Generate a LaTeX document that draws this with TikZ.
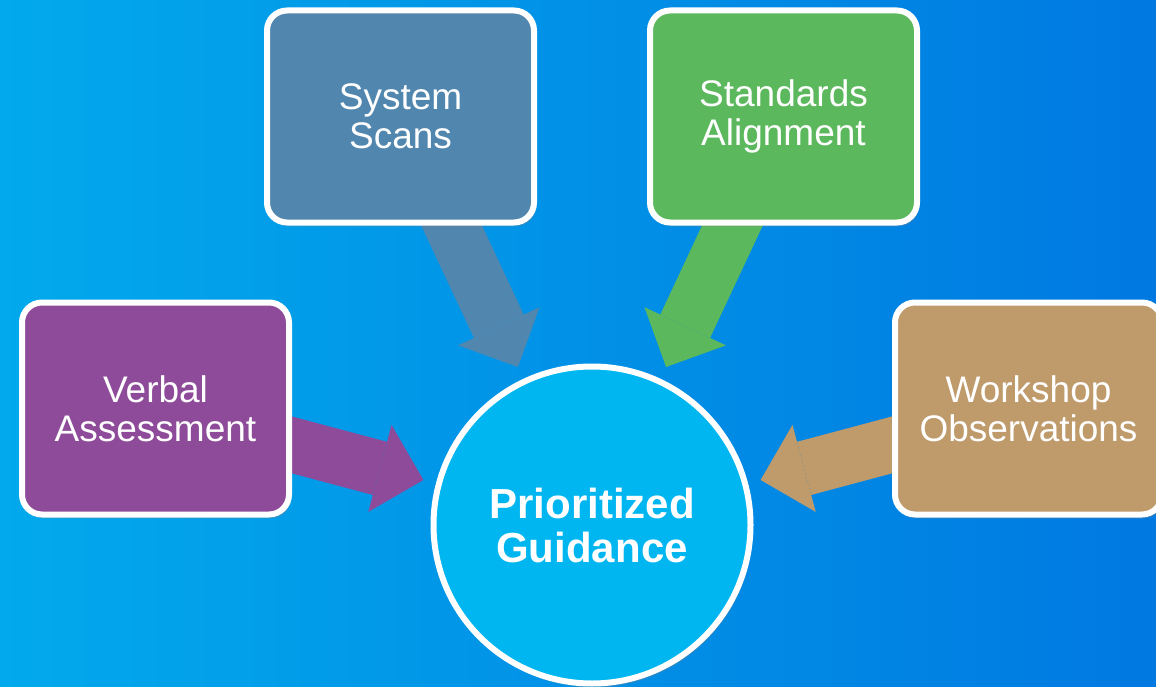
\documentclass[tikz,border=0pt]{standalone}
\usepackage{fontspec}
\setmainfont{Liberation Sans}
\usetikzlibrary{arrows.meta,shadows}

\definecolor{bgleft}{HTML}{02A9EC}
\definecolor{bgright}{HTML}{0079E1}
\definecolor{scanblue}{HTML}{5186AE}
\definecolor{stdgreen}{HTML}{5CB85C}
\definecolor{verbpurple}{HTML}{8E4B99}
\definecolor{worktan}{HTML}{BF9A6A}
\definecolor{guidecyan}{HTML}{00B6F0}

\pgfdeclarelayer{bg}
\pgfdeclarelayer{feedlayer}
\pgfsetlayers{bg,feedlayer,main}

\tikzset{
  inputbox/.style={draw=white, line width=6pt, rounded corners=20pt,
    minimum width=267pt, minimum height=212pt, align=center, text=white,
    font=\fontsize{37}{39}\selectfont,
    drop shadow={opacity=0.3, shadow xshift=2pt, shadow yshift=-4pt}},
  guidecircle/.style={circle, draw=white, line width=6pt, fill=guidecyan,
    minimum size=317pt, align=center, text=white,
    font=\bfseries\fontsize{42}{44}\selectfont,
    drop shadow={opacity=0.3, shadow xshift=2pt, shadow yshift=-4pt}},
  feed/.style={line width=55pt, shorten >=13pt,
    -{Triangle[width=90pt,length=45pt,line width=0pt]}}
}

\begin{document}
\begin{tikzpicture}[x=1pt, y=-1pt]
  \useasboundingbox (0,0) rectangle (1156,687);
  \begin{pgfonlayer}{bg}
    \fill[left color=bgleft, right color=bgright] (0,0) rectangle (1156,687);
  \end{pgfonlayer}

  \node[inputbox, fill=scanblue] (scans) at (400.5,116.5) {System\\Scans};
  \node[inputbox, fill=stdgreen] (standards) at (783.5,116.5) {Standards\\Alignment};
  \node[inputbox, fill=verbpurple] (verbal) at (155.5,408.5) {Verbal\\Assessment};
  \node[inputbox, fill=worktan] (workshop) at (1028.5,408.5) {Workshop\\Observations};
  \node[guidecircle] (guide) at (592,525) {Prioritized\\Guidance};

  \begin{pgfonlayer}{feedlayer}
    \draw[feed, scanblue] (scans.center) -- (guide);
    \draw[feed, stdgreen] (standards.center) -- (guide);
    \draw[feed, verbpurple] (verbal.center) -- (guide);
    \draw[feed, worktan] (workshop.center) -- (guide);
  \end{pgfonlayer}
\end{tikzpicture}
\end{document}
